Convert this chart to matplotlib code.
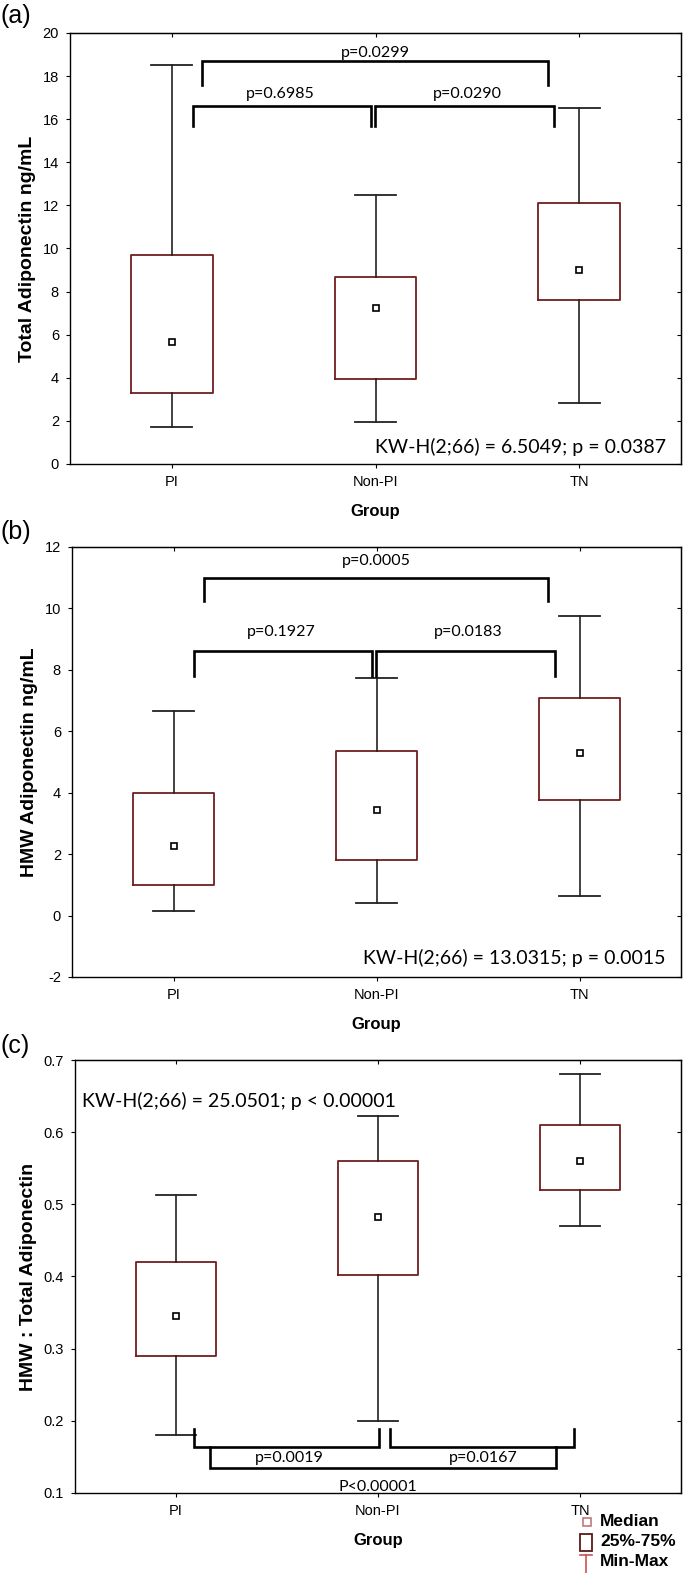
import matplotlib.pyplot as plt
from matplotlib.patches import Rectangle
from matplotlib.lines import Line2D

plt.rcParams['font.family'] = ['Liberation Sans', 'DejaVu Sans']
plt.rcParams['axes.unicode_minus'] = False

groups = ["PI", "Non-PI", "TN"]

# (a) Total adiponectin: min, 25%, median, 75%, max
tot_min = [1.7, 1.95, 2.85]
tot_q1 = [3.3, 3.95, 7.6]
tot_med = [5.65, 7.25, 9.0]
tot_q3 = [9.7, 8.7, 12.1]
tot_max = [18.5, 12.5, 16.5]

# (b) HMW adiponectin
hmw_min = [0.15, 0.4, 0.65]
hmw_q1 = [1.0, 1.8, 3.75]
hmw_med = [2.25, 3.45, 5.3]
hmw_q3 = [4.0, 5.35, 7.1]
hmw_max = [6.65, 7.75, 9.75]

# (c) HMW : total ratio
rat_min = [0.18, 0.20, 0.47]
rat_q1 = [0.29, 0.402, 0.52]
rat_med = [0.345, 0.483, 0.56]
rat_q3 = [0.42, 0.56, 0.61]
rat_max = [0.513, 0.622, 0.68]

# brackets: x1, x2, bar y, leg y, label, label x, label y
br_a = [(0.148, 1.847, 18.68, 17.6, "p=0.0299", 1.0, 19.07),
        (0.103, 0.977, 16.6, 15.7, "p=0.6985", 0.53, 17.15),
        (0.999, 1.877, 16.6, 15.7, "p=0.0290", 1.45, 17.15)]
br_b = [(0.148, 1.847, 11.0, 10.25, "p=0.0005", 1.0, 11.55),
        (0.103, 0.977, 8.62, 7.8, "p=0.1927", 0.53, 9.24),
        (0.999, 1.877, 8.62, 7.8, "p=0.0183", 1.45, 9.24)]
br_c = [(0.089, 1.005, 0.164, 0.189, "p=0.0019", 0.56, 0.149),
        (1.06, 1.97, 0.164, 0.189, "p=0.0167", 1.52, 0.149),
        (0.168, 1.88, 0.135, 0.164, "P<0.00001", 1.0, 0.109)]

W, H = 685, 1573
fig = plt.figure(figsize=(W / 100, H / 100), dpi=100)

box_col = "#6e1f1f"
txt_font = ['Lato', 'DejaVu Sans']


def add_axes(left, top, bottom, right=681):
    return fig.add_axes([left / W, 1 - bottom / H, (right - left) / W, (bottom - top) / H])


def panel(ax, mins, q1s, meds, q3s, maxs, ylim, yticks, ylabel, brackets, kw, kwpos, kwha):
    stats = []
    for i in range(len(groups)):
        stats.append(dict(whislo=mins[i], q1=q1s[i], med=meds[i], q3=q3s[i],
                          whishi=maxs[i], fliers=[]))
    ax.bxp(stats, positions=range(len(groups)), widths=0.4, capwidths=0.2,
           showfliers=False, patch_artist=False,
           boxprops=dict(color=box_col, lw=1.3),
           whiskerprops=dict(color="#222222", lw=1.2),
           capprops=dict(color="#222222", lw=1.3),
           medianprops=dict(linestyle="none"))
    ax.plot(range(len(groups)), meds, ls="none", marker="s", ms=5,
            mfc="white", mec="black", mew=1.2)
    for x1, x2, yb, yl, lab, xt, yt in brackets:
        ax.plot([x1, x1, x2, x2], [yl, yb, yb, yl], color="black", lw=1.9,
                solid_joinstyle="miter")
        ax.text(xt, yt, lab, ha="center", va="center", fontsize=11.5, family=txt_font)
    ax.text(kwpos[0], kwpos[1], kw, transform=ax.transAxes, ha=kwha, va="center",
            fontsize=14, family=txt_font)
    ax.set_xlim(-0.5, 2.5)
    ax.set_ylim(*ylim)
    ax.set_yticks(yticks)
    ax.set_xticks(range(len(groups)))
    ax.set_xticklabels(groups)
    ax.tick_params(direction="out", length=3, width=0.8, labelsize=10.5, pad=5)
    ax.set_ylabel(ylabel, fontsize=14, fontweight="bold", labelpad=5)
    ax.set_xlabel("Group", fontsize=12, fontweight="bold", labelpad=11)
    for s in ax.spines.values():
        s.set_linewidth(1.0)
    top = ax.secondary_xaxis("top")
    top.set_xticks(range(len(groups)))
    top.tick_params(direction="in", length=3, labeltop=False)
    right = ax.secondary_yaxis("right")
    right.set_yticks(yticks)
    right.tick_params(direction="in", length=3, labelright=False)


ax_a = add_axes(70, 33, 464)
panel(ax_a, tot_min, tot_q1, tot_med, tot_q3, tot_max, (0, 20), range(0, 21, 2),
      "Total Adiponectin ng/mL", br_a, "KW-H(2;66) = 6.5049; p = 0.0387", (0.975, 0.04), "right")

ax_b = add_axes(72, 547, 977)
panel(ax_b, hmw_min, hmw_q1, hmw_med, hmw_q3, hmw_max, (-2, 12), range(-2, 13, 2),
      "HMW Adiponectin ng/mL", br_b, "KW-H(2;66) = 13.0315; p = 0.0015", (0.975, 0.045), "right")

ax_c = add_axes(75, 1060, 1493)
panel(ax_c, rat_min, rat_q1, rat_med, rat_q3, rat_max, (0.1, 0.7),
      [0.1, 0.2, 0.3, 0.4, 0.5, 0.6, 0.7],
      "HMW : Total Adiponectin", br_c, "KW-H(2;66) = 25.0501; p < 0.00001", (0.012, 0.905), "left")
ax_c.set_yticklabels(["0.1", "0.2", "0.3", "0.4", "0.5", "0.6", "0.7"])

# panel letters
for lab, y in [("(a)", 16), ("(b)", 532), ("(c)", 1046)]:
    fig.text(1 / W, 1 - y / H, lab, fontsize=18, va="center", ha="left")


# legend (bottom right, outside the plot)
def fx(px):
    return px / W


def fy(py):
    return 1 - py / H


fig.add_artist(Rectangle((fx(583), fy(1526)), 8 / W, 8 / H, transform=fig.transFigure,
                         fill=False, ec="#c07a7a", lw=1.2))
fig.text(fx(600), fy(1522), "Median", fontsize=12.5, fontweight="bold", va="center")
fig.add_artist(Rectangle((fx(580), fy(1551)), 12 / W, 17 / H, transform=fig.transFigure,
                         fill=False, ec="#5a1a1a", lw=1.3))
fig.text(fx(600), fy(1542), "25%-75%", fontsize=12.5, fontweight="bold", va="center")
fig.add_artist(Line2D([fx(580), fx(592)], [fy(1555), fy(1555)], transform=fig.transFigure,
                      color="#d05050", lw=1.2))
fig.add_artist(Line2D([fx(586), fx(586)], [fy(1555), fy(1573)], transform=fig.transFigure,
                      color="#d05050", lw=1.2))
fig.text(fx(600), fy(1562), "Min-Max", fontsize=12.5, fontweight="bold", va="center")

fig.savefig("out.png", dpi=100)
